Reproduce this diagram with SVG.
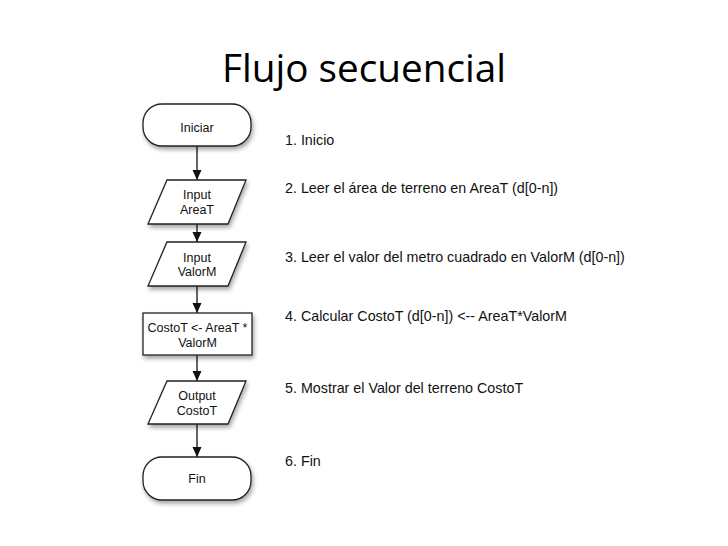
<svg xmlns="http://www.w3.org/2000/svg" width="728" height="546" viewBox="0 0 728 546">
<style>
.node{fill:#fff;stroke:#222;stroke-width:1.3;filter:url(#sh)}
.nt{font-family:"Liberation Sans",Arial,sans-serif;font-size:12.5px;fill:#111;text-anchor:middle}
.st{font-family:"Liberation Sans",Arial,sans-serif;font-size:14.3px;fill:#111}
.title{font-family:"Open Sans",sans-serif;font-size:38px;fill:#000}
.conn line{stroke:#111;stroke-width:1.3;marker-end:url(#ah)}
</style>
<defs>
<filter id="sh" x="-20%" y="-20%" width="140%" height="150%">
<feDropShadow dx="1.5" dy="3" stdDeviation="2" flood-color="#000" flood-opacity="0.35"/>
</filter>
<marker id="ah" markerWidth="10" markerHeight="10" viewBox="0 0 10 10" refX="10" refY="5" orient="auto" markerUnits="userSpaceOnUse">
<path d="M0,0.5 L10,5 L0,9.5 Z" fill="#111"/>
</marker>
</defs>
<rect width="728" height="546" fill="#fff"/>
<text class="title" x="222" y="82" textLength="284" lengthAdjust="spacingAndGlyphs">Flujo secuencial</text>

<g class="conn" id="connectors">
<line x1="197" y1="146" x2="197" y2="180"/>
<line x1="197" y1="224" x2="197" y2="242"/>
<line x1="197" y1="286" x2="197" y2="313"/>
<line x1="197" y1="355" x2="197" y2="381"/>
<line x1="197" y1="424" x2="197" y2="457"/>
</g>

<g id="n-iniciar">
<rect class="node" x="143" y="104" width="108" height="42" rx="19" ry="19"/>
<text class="nt" x="197" y="132">Iniciar</text>
</g>
<g id="n-input-areat">
<polygon class="node" points="167,180 246,180 228,224 148,224"/>
<text class="nt" x="197" y="199">Input</text>
<text class="nt" x="197" y="214">AreaT</text>
</g>
<g id="n-input-valorm">
<polygon class="node" points="167,242 246,242 228,286 148,286"/>
<text class="nt" x="197" y="262">Input</text>
<text class="nt" x="197" y="276">ValorM</text>
</g>
<g id="n-proceso">
<rect class="node" x="143" y="313" width="109" height="42"/>
<text class="nt" x="197.5" y="332">CostoT &lt;- AreaT *</text>
<text class="nt" x="197.5" y="347">ValorM</text>
</g>
<g id="n-output">
<polygon class="node" points="167,381 246,381 228,424 148,424"/>
<text class="nt" x="197" y="400">Output</text>
<text class="nt" x="197" y="415">CostoT</text>
</g>
<g id="n-fin">
<rect class="node" x="143" y="457" width="108" height="43" rx="19" ry="19"/>
<text class="nt" x="197" y="483">Fin</text>
</g>

<g id="steps">
<text class="st" x="285" y="145">1. Inicio</text>
<text class="st" x="285" y="193">2. Leer el área de terreno en AreaT (d[0-n])</text>
<text class="st" x="285" y="262">3. Leer el valor del metro cuadrado en ValorM (d[0-n])</text>
<text class="st" x="285" y="321">4. Calcular CostoT (d[0-n]) &lt;-- AreaT*ValorM</text>
<text class="st" x="285" y="393">5. Mostrar el Valor del terreno CostoT</text>
<text class="st" x="285" y="466">6. Fin</text>
</g>
</svg>
